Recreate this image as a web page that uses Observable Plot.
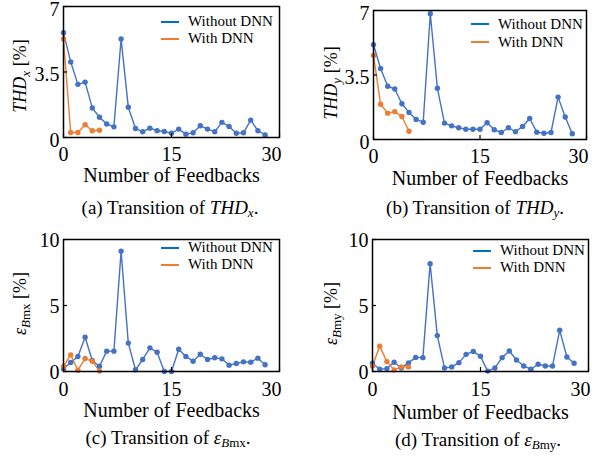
<!DOCTYPE html>
<html><head><meta charset="utf-8">
<script src="https://cdn.jsdelivr.net/npm/d3@7"></script>
<script src="https://cdn.jsdelivr.net/npm/@observablehq/plot@0.6"></script>
<style>
body{margin:0;background:#fff;}
#root{position:relative;width:596px;height:457px;font-family:"Liberation Serif",serif;color:#000;overflow:hidden;}
.panel{position:absolute;}
.panel svg, .panel svg text, .panel svg tspan{font-family:"Liberation Serif",serif !important;}
.cap{position:absolute;font-size:19px;white-space:nowrap;transform:translate(-50%,-50%);}
.cap sub{font-size:13px;vertical-align:-3px;line-height:0;}
.legend{position:absolute;font-size:15px;}
.legend .row{display:flex;align-items:center;white-space:nowrap;}
.legend .sw{display:inline-block;width:18px;height:0;border-top:2px solid;margin-right:9px;}
</style></head><body><div id="root"></div><script>
// ---- data ----
const feedbacks = [0,1,2,3,4,5,6,7,8,9,10,11,12,13,14,15,16,17,18,19,20,21,22,23,24,25,26,27,28];
const feedbacksDNN = [0,1,2,3,4,5];
const seriesNames = ["Without DNN", "With DNN"];
const thdxWithout = [5.60,4.04,2.84,2.96,1.58,1.08,0.72,0.57,5.26,1.62,0.48,0.31,0.50,0.36,0.32,0.23,0.45,0.18,0.25,0.63,0.45,0.31,0.81,0.59,0.23,0.25,0.93,0.36,0.14];
const thdxWith = [5.26,0.27,0.27,0.68,0.36,0.39];
const thdyWithout = [5.14,3.85,2.89,2.74,1.94,1.47,1.09,0.94,6.82,2.78,0.89,0.74,0.64,0.56,0.56,0.56,0.91,0.53,0.38,0.64,0.42,0.71,1.14,0.40,0.34,0.38,2.30,1.22,0.31];
const thdyWith = [4.56,1.91,1.43,1.51,1.25,0.45];
const ebmxWithout = [0.20,0.68,1.14,2.60,0.83,0.40,1.54,1.54,9.12,2.15,0.13,0.91,1.79,1.46,0.00,0.00,1.69,1.14,0.78,1.31,0.91,1.04,0.96,0.48,0.61,0.73,0.71,1.01,0.51];
const ebmxWith = [0.38,1.26,0.10,0.98,0.78,0.03];
const ebmyWithout = [0.62,0.17,0.22,0.70,0.27,0.65,1.07,1.05,8.17,2.72,0.27,0.35,0.67,1.30,1.52,1.15,0.03,0.27,1.05,1.55,0.87,0.42,0.17,0.55,0.42,0.42,3.12,1.10,0.62];
const ebmyWith = [0.42,1.92,0.75,0.12,0.35,0.35];
const xTicks = [0, 15, 30];
const xTicksInner = [0, 15];
const xTicksLast = [30];
const thdTicks = [0, 3.5, 7];
const errTicks = [0, 5, 10];
const xLabel = "Number of Feedbacks";

const blue = "#4472C4", orange = "#ED7D31", legendBlue = "#0070C0";

const panels = [
  {without: thdxWithout, with: thdxWith, ymax: 7, yTicks: thdTicks,
   left: 0, top: 0, w: 298, h: 190, ml: 63, mr: 19, mt: 6, mb: 53, tp: 9, xlDy: 38, ylDx: -43, ylDy: 4, tdy: 3,
   yPlain: "THDx [%]", rich: t => { t.append("tspan").attr("font-style","italic").text("THD"); t.append("tspan").attr("font-style","italic").attr("font-size",13).attr("dy",4).text("x"); t.append("tspan").attr("dy",-4).text(" [%]"); },
   cap: '(a) Transition of <i>THD<sub>x</sub></i>.', cx: 170, cy: 208,
   lg: {left: 161, top: 13, rh: 17}},
  {without: thdyWithout, with: thdyWith, ymax: 7, yTicks: thdTicks,
   left: 298, top: 0, w: 298, h: 190, ml: 75, mr: 10, mt: 10, mb: 51, tp: 9, xlDy: 39, ylDx: -42, ylDy: 8, tdy: 3,
   yPlain: "THDy [%]", rich: t => { t.append("tspan").attr("font-style","italic").text("THD"); t.append("tspan").attr("font-style","italic").attr("font-size",13).attr("dy",4).text("y"); t.append("tspan").attr("dy",-4).text(" [%]"); },
   cap: '(b) Transition of <i>THD<sub>y</sub></i>.', cx: 475, cy: 208,
   lg: {left: 471, top: 15, rh: 18}},
  {without: ebmxWithout, with: ebmxWith, ymax: 10, yTicks: errTicks,
   left: 0, top: 225, w: 298, h: 200, ml: 63, mr: 19, mt: 14, mb: 54, tp: 10, xlDy: 39, ylDx: -43, ylDy: -2, tdy: 1,
   yPlain: "εBmx [%]", rich: t => { t.append("tspan").attr("font-style","italic").text("ε"); const s = t.append("tspan").attr("font-size",13).attr("dy",4); s.append("tspan").attr("font-style","italic").text("B"); s.append("tspan").text("mx"); t.append("tspan").attr("dy",-4).text(" [%]"); },
   cap: '(c) Transition of <i>ε</i><sub><i>B</i>mx</sub>.', cx: 168, cy: 438,
   lg: {left: 161, top: 239, rh: 17}},
  {without: ebmyWithout, with: ebmyWith, ymax: 10, yTicks: errTicks,
   left: 298, top: 225, w: 298, h: 200, ml: 74, mr: 8, mt: 14, mb: 54, tp: 10, xlDy: 41, ylDx: -41, ylDy: 8, tdy: 1,
   yPlain: "εBmy [%]", rich: t => { t.append("tspan").attr("font-style","italic").text("ε"); const s = t.append("tspan").attr("font-size",13).attr("dy",4); s.append("tspan").attr("font-style","italic").text("B"); s.append("tspan").text("my"); t.append("tspan").attr("dy",-4).text(" [%]"); },
   cap: '(d) Transition of <i>ε</i><sub><i>B</i>my</sub>.', cx: 478, cy: 440,
   lg: {left: 473, top: 242, rh: 17}}
];

const root = document.getElementById("root");

for (const cfg of panels) {
  const data = [
    ...feedbacks.map((f, i) => ({f, v: cfg.without[i], s: seriesNames[0]})),
    ...feedbacksDNN.map((f, i) => ({f, v: cfg.with[i], s: seriesNames[1]}))
  ];
  const svg = Plot.plot({
    width: cfg.w, height: cfg.h,
    marginLeft: cfg.ml, marginRight: cfg.mr, marginTop: cfg.mt, marginBottom: cfg.mb,
    style: {fontSize: "20px", background: "transparent", color: "black", overflow: "visible"},
    x: {domain: [0, 30]},
    y: {domain: [0, cfg.ymax]},
    color: {domain: seriesNames, range: [blue, orange]},
    marks: [
      Plot.line(data, {x: "f", y: "v", z: "s", stroke: "s", strokeWidth: 1.4}),
      Plot.dot(data, {x: "f", y: "v", fill: "s", r: 2.7}),
      Plot.frame({stroke: "black", strokeWidth: 1.5}),
      Plot.axisX(xTicks, {tickSize: -4, tickFormat: () => "", label: null, strokeWidth: 1.2}),
      Plot.axisX(xTicksInner, {tickSize: 0, tickPadding: cfg.tp, label: null, fontSize: 20}),
      Plot.axisX(xTicksLast, {tickSize: 0, tickPadding: cfg.tp, dx: -8, label: null, fontSize: 20}),
      Plot.axisY(cfg.yTicks, {tickSize: -4, tickFormat: () => "", label: null, strokeWidth: 1.2}),
      Plot.axisY(cfg.yTicks, {tickSize: 0, tickPadding: 4, dy: cfg.tdy, label: null, fontSize: 20, tickFormat: d => String(d)}),
      Plot.text([xLabel], {frameAnchor: "bottom", lineAnchor: "middle", textAnchor: "middle", dy: cfg.xlDy, fontSize: 20, text: d => d}),
      Plot.text([cfg.yPlain], {frameAnchor: "left", lineAnchor: "middle", textAnchor: "middle", dx: cfg.ylDx, dy: cfg.ylDy, rotate: -90, fontSize: 18, text: d => d})
    ]
  });
  d3.select(svg).selectAll("text").filter(function () { return this.textContent === cfg.yPlain; })
    .each(function () { const t = d3.select(this); t.text(null); cfg.rich(t); });
  const div = document.createElement("div");
  div.className = "panel";
  div.style.left = cfg.left + "px";
  div.style.top = cfg.top + "px";
  div.appendChild(svg);
  root.appendChild(div);

  const lg = document.createElement("div");
  lg.className = "legend";
  lg.style.left = cfg.lg.left + "px";
  lg.style.top = cfg.lg.top + "px";
  [legendBlue, orange].forEach((c, i) => {
    const row = document.createElement("div");
    row.className = "row";
    row.style.height = cfg.lg.rh + "px";
    const sw = document.createElement("span");
    sw.className = "sw";
    sw.style.borderTopColor = c;
    row.appendChild(sw);
    row.appendChild(document.createTextNode(seriesNames[i]));
    lg.appendChild(row);
  });
  root.appendChild(lg);

  const cap = document.createElement("div");
  cap.className = "cap";
  cap.style.left = cfg.cx + "px";
  cap.style.top = cfg.cy + "px";
  cap.innerHTML = cfg.cap;
  root.appendChild(cap);
}
</script></body></html>
